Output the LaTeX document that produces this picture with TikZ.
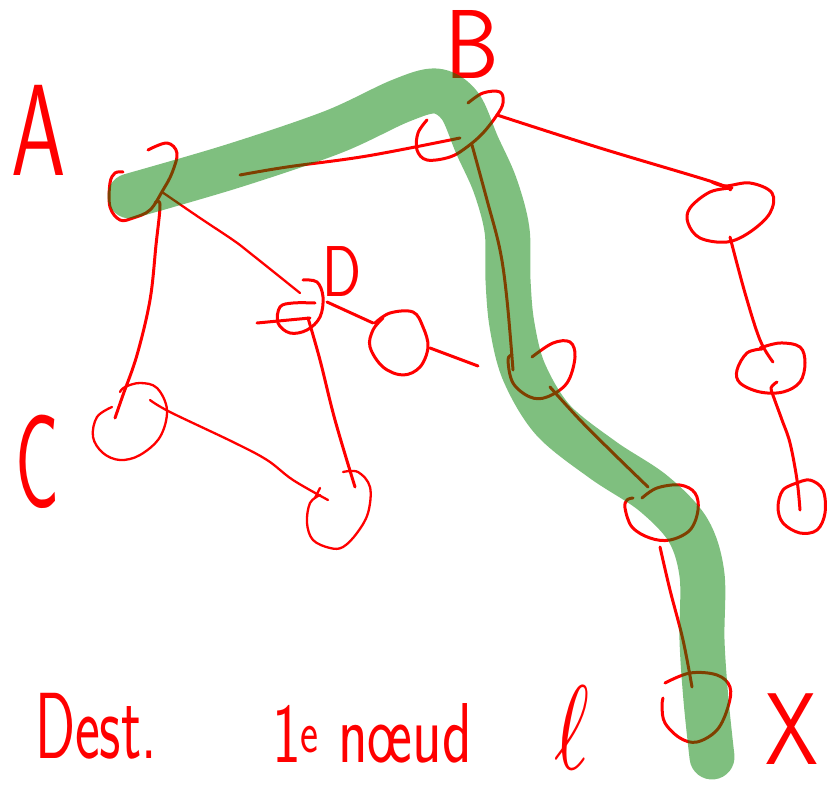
\documentclass[tikz,border=0pt]{standalone}
\usepackage{fontspec}
\definecolor{penred}{RGB}{255,0,0}
\definecolor{hlgreen}{RGB}{0,128,0}
\begin{document}
\begin{tikzpicture}[x=1pt,y=-1pt,
  pen/.style={draw=penred, line width=3pt, line cap=round, line join=round},
  thinpen/.style={pen, line width=2.3pt},
  hand/.style={text=penred, inner sep=0pt, outer sep=0pt},
  highlight/.style={draw=hlgreen, line width=45pt, line cap=round, line join=round, opacity=0.5},
  sk/.style={smooth, tension=0.6}]
\useasboundingbox (0,0) rectangle (827,787);

% ---- node centres and connector ends ----
\coordinate (nA) at (140,190);   % root
\coordinate (nB) at (460,128);
\coordinate (nR1) at (730,212);
\coordinate (nR2) at (770,368);
\coordinate (nR3) at (802,507);
\coordinate (nD) at (300,310);
\coordinate (nS) at (400,343);
\coordinate (nC) at (130,420);
\coordinate (nE) at (338,510);
\coordinate (nM1) at (540,370);
\coordinate (nM2) at (660,512);
\coordinate (nM3) at (696,708);

\coordinate (a-c) at (160,205);  \coordinate (c-a) at (115,418);
\coordinate (a-d) at (162,192);  \coordinate (d-a) at (300,293);
\coordinate (a-b) at (240,175);  \coordinate (b-a) at (460,138);
\coordinate (b-r) at (497,115);  \coordinate (r-b) at (730,190);
\coordinate (b-m) at (472,145);  \coordinate (m-b) at (513,370);
\coordinate (r1-r2) at (730,237); \coordinate (r2-r1) at (773,362);
\coordinate (r2-r3) at (777,382); \coordinate (r3-r2) at (800,510);
\coordinate (d-e) at (308,318);  \coordinate (e-d) at (355,487);
\coordinate (d-s) at (327,302);  \coordinate (s-d) at (373,323);
\coordinate (s-o) at (430,348);  \coordinate (so) at (478,366);
\coordinate (c-e) at (150,400);  \coordinate (e-c) at (328,500);
\coordinate (m1-m2) at (550,387); \coordinate (m2-m1) at (648,487);
\coordinate (m2-m3) at (660,547); \coordinate (m3-m2) at (692,687);

% ---- freehand circles ----
\draw[pen] plot[sk] coordinates {(148,150) (167,143) (177,153) (172,173) (163,190) (150,210) (133,218) (120,220) (110,207) (110,183) (115,173) (123,172)};
\draw[pen] plot[sk] coordinates {(468,103) (483,93) (500,92) (503,103) (497,115) (483,133) (467,147) (450,157) (427,160) (417,150) (418,133) (427,120)};
\draw[pen] plot[sk] coordinates {(732,188) (710,192) (690,208) (688,223) (700,238) (727,242) (750,232) (770,213) (772,193) (750,183) (725,186) (712,182)};
\draw[pen] plot[sk] coordinates {(760,348) (780,343) (800,347) (805,363) (800,382) (783,392) (760,392) (740,383) (737,370) (747,353) (762,349)};
\draw[pen] plot[sk] coordinates {(797,483) (810,480) (823,490) (825,513) (817,530) (800,533) (783,523) (778,507) (783,490) (797,483)};
\draw[pen] plot[sk] coordinates {(303,280) (317,282) (323,297) (320,317) (307,330) (290,333) (278,323) (280,307) (293,303) (315,303)};
\draw[pen] (257,323) -- (310,318);
\draw[pen] plot[sk] coordinates {(375,323) (390,313) (413,312) (423,327) (428,347) (420,367) (403,375) (383,367) (370,347) (373,330) (383,318)};
\draw[thinpen] plot[sk] coordinates {(112,407) (97,417) (93,437) (103,453) (120,460) (140,455) (160,437) (167,410) (157,388) (140,383) (125,387) (120,392)};
\draw[thinpen] plot[sk] coordinates {(343,472) (358,472) (370,487) (368,513) (357,533) (343,547) (330,548) (313,540) (307,523) (310,503) (320,495)};
\draw[pen] plot[sk] coordinates {(532,357) (553,343) (570,342) (575,357) (567,383) (547,397) (530,397) (513,383) (508,360) (512,355)};
\draw[pen] plot[sk] coordinates {(642,498) (657,488) (680,485) (695,493) (698,510) (690,530) (670,540) (650,538) (632,527) (625,508) (627,500) (633,498)};
\draw[pen] plot[sk] coordinates {(665,683) (690,673) (717,675) (730,687) (728,707) (717,730) (697,742) (680,738) (665,723) (662,707) (663,698)};

% ---- connectors ----
\draw[pen] plot[sk] coordinates {(155,203) (a-c) (156,245) (150,300) (137,355) (123,395) (c-a)};
\draw[thinpen] plot[sk] coordinates {(a-d) (200,218) (233,240) (250,253) (d-a)};
\draw[pen] plot[sk] coordinates {(a-b) (287,167) (367,156) (b-a)};
\draw[pen] plot[sk] coordinates {(b-r) (600,148) (713,182) (r-b)};
\draw[pen] plot[sk] coordinates {(b-m) (487,200) (500,250) (507,300) (m-b)};
\draw[pen] plot[sk] coordinates {(r1-r2) (745,293) (760,340) (r2-r1)};
\draw[pen] plot[sk] coordinates {(r2-r3) (771,388) (774,398) (782,420) (790,443) (797,480) (r3-r2)};
\draw[pen] plot[sk] coordinates {(d-e) (320,360) (335,420) (e-d)};
\draw[pen] (d-s) -- (s-d);
\draw[pen] (s-o) -- (so);
\draw[thinpen] plot[sk] coordinates {(c-e) (170,412) (233,442) (267,460) (293,480) (e-c)};
\draw[thinpen] (320,488) -- (315,498);
\draw[pen] plot[sk] coordinates {(m1-m2) (580,420) (613,453) (m2-m1)};
\draw[pen] plot[sk] coordinates {(m2-m3) (670,590) (683,640) (m3-m2)};

% ---- handwritten labels ----
\node[hand, xscale=0.67, font=\sffamily\fontsize{130}{130}\selectfont] (lA) at (39,130) {A};
\node[hand, xscale=0.87, font=\sffamily\fontsize{98}{98}\selectfont] (lB) at (472,44) {B};
\node[hand, xscale=0.55, font=\sffamily\fontsize{133}{133}\selectfont] (lC) at (37,462) {C};
\node[hand, xscale=0.8, font=\sffamily\fontsize{72}{72}\selectfont] (lD) at (342,272) {D};
\node[hand, xscale=0.83, font=\sffamily\fontsize{102}{102}\selectfont] (lX) at (792,729) {X};
\node[hand, xscale=0.63, anchor=base west, font=\sffamily\fontsize{94}{94}\selectfont] (dest) at (35,758) {Dest.};
\node[hand, xscale=0.72, anchor=base west, font=\sffamily\fontsize{85}{85}\selectfont] (first) at (272,762) {1\textsuperscript{e} n\oe ud};
\node[hand, xscale=0.7, inner sep=2pt] (ell) at (572,728) {\scalebox{12}{$\ell$}};

% ---- highlighted route ----
\draw[highlight] plot[smooth, tension=0.55] coordinates {(130,196) (233,166) (333,132) (400,101) (436,91) (460,106) (477,145) (495,185) (507,230) (508,280) (512,325) (524,372) (553,420) (603,460) (653,493) (688,530) (702,575) (702,640) (706,700) (712,757)};
\end{tikzpicture}
\end{document}
